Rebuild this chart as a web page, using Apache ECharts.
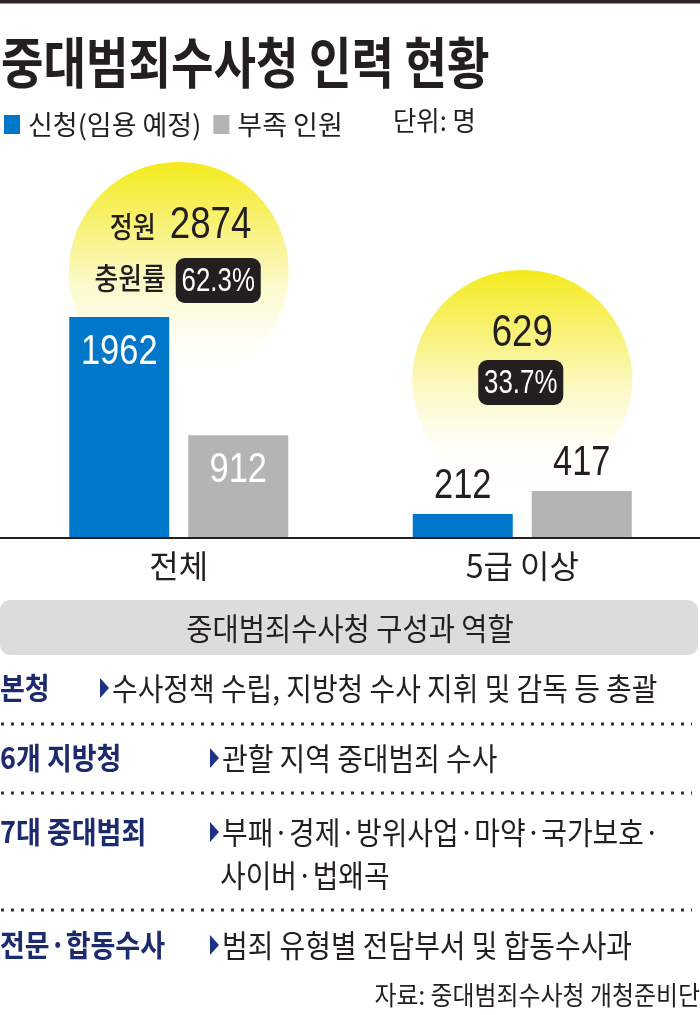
<!DOCTYPE html>
<html>
<head>
<meta charset="utf-8">
<title>중대범죄수사청 인력 현황</title>
<script src="https://cdn.jsdelivr.net/npm/echarts@6/dist/echarts.min.js"></script>
<style>
    html, body { margin: 0; padding: 0; background: #fff; }
    #main { width: 700px; height: 1015px; }
</style>
</head>
<body>
<div id="main"></div>
<script>
// 데이터
var categories = ['전체', '5급 이상'];
var seriesNames = ['신청(임용 예정)', '부족 인원'];
var appliedCounts = [1962, 212];
var shortageCounts = [912, 417];
var quotaCounts = [2874, 629];
var fillRates = ['62.3%', '33.7%'];
var quotaPrefix = ['정원', ''];
var ratePrefix = ['충원률', ''];

var roleLabels = ['본청', '6개 지방청', '7대 중대범죄', '전문·합동수사'];
var roleTexts = [
    ['수사정책 수립, 지방청 수사 지휘 및 감독 등 총괄'],
    ['관할 지역 중대범죄 수사'],
    ['부패·경제·방위사업·마약·국가보호·', '사이버·법왜곡'],
    ['범죄 유형별 전담부서 및 합동수사과']
];

// 스타일
var DARK = '#231f20';
var BLUE = '#0077c8';
var GRAY = '#b4b4b4';
var NAVY = '#1c2a6e';
var KR = '"Noto Sans CJK KR", sans-serif';
var NUM = '"Liberation Sans", Arial, sans-serif';

var BAR_WIDTH = 100;
var BAR_GAP = 19;
var bubbleCenterY = [272, 380];
var bubbleRadius = 110;

function renderBubble(params, api) {
    var i = params.dataIndex;
    var cx = api.coord([api.value(0), 0])[0];
    var cy = bubbleCenterY[i];
    var fill = new echarts.graphic.LinearGradient(0, 0, 0, 1, [
        { offset: 0, color: '#f4ea1c' },
        { offset: 0.3, color: '#f8f27c' },
        { offset: 0.55, color: '#fcf9c8' },
        { offset: 0.8, color: '#fffef6' },
        { offset: 1, color: '#ffffff' }
    ]);
    var children = [{
        type: 'circle',
        shape: { cx: cx, cy: cy, r: bubbleRadius },
        style: { fill: fill }
    }];
    var hasPrefix = quotaPrefix[i] != '';
    var boxW = 85, boxH = 45;
    var boxX = hasPrefix ? cx - 3 : cx - 44;
    var boxY = hasPrefix ? cy - 14 : cy - 20;
    if (hasPrefix) {
        children.push({
            type: 'text', x: cx - 23, y: cy - 45, scaleX: 0.86,
            style: { text: quotaPrefix[i], font: '500 29px ' + KR, fill: DARK, align: 'right', verticalAlign: 'middle' }
        });
        children.push({
            type: 'text', x: cx - 13, y: cy + 6, scaleX: 0.86,
            style: { text: ratePrefix[i], font: '500 30px ' + KR, fill: DARK, align: 'right', verticalAlign: 'middle' }
        });
    }
    children.push({
        type: 'text', x: hasPrefix ? cx - 9 : cx, y: cy - 46, scaleX: 0.815,
        style: { text: String(api.value(1)), font: '45px ' + NUM, fill: DARK, align: hasPrefix ? 'left' : 'center', verticalAlign: 'middle' }
    });
    children.push({
        type: 'rect',
        shape: { x: boxX, y: boxY, width: boxW, height: boxH, r: 9 },
        style: { fill: DARK }
    });
    children.push({
        type: 'text', x: boxX + boxW / 2, y: boxY + boxH / 2 + 1, scaleX: 0.76,
        style: { text: fillRates[i], font: '34px ' + NUM, fill: '#fff', align: 'center', verticalAlign: 'middle' }
    });
    return { type: 'group', children: children };
}

// 막대 값 라벨 (좁은 글꼴 흉내를 위해 scaleX 사용)
function renderBarLabel(params, api) {
    var value = api.value(1);
    var side = api.value(2) == 0 ? -1 : 1;
    var base = api.coord([api.value(0), 0]);
    var top = api.coord([api.value(0), value]);
    var inside = value > 500;
    return {
        type: 'text',
        x: base[0] + side * (BAR_WIDTH + BAR_GAP) / 2,
        y: inside ? top[1] + 35 : top[1] - 28,
        scaleX: 0.82,
        style: {
            text: String(value),
            font: '42px ' + NUM,
            fill: inside ? '#fff' : DARK,
            align: 'center',
            verticalAlign: 'middle'
        }
    };
}

function labelData() {
    var list = [];
    for (var i = 0; i < categories.length; i++) {
        list.push([i, appliedCounts[i], 0]);
        list.push([i, shortageCounts[i], 1]);
    }
    return list;
}

function textEl(x, y, text, font, fill, align, scaleX) {
    return {
        type: 'text', x: x, y: y, scaleX: scaleX || 1,
        style: { text: text, font: font, fill: fill, align: align || 'left', verticalAlign: 'middle' }
    };
}

function buildGraphics() {
    var els = [];
    els.push({ type: 'rect', shape: { x: 0, y: 0, width: 700, height: 3.5 }, style: { fill: '#2b2523' } });
    els.push(textEl(1, 62, '중대범죄수사청 인력 현황', 'bold 55px ' + KR, DARK, 'left', 0.84));
    els.push(textEl(393, 121, '단위: 명', '27px ' + KR, DARK, 'left', 0.94));
    els.push({ type: 'line', shape: { x1: 0, y1: 538, x2: 700, y2: 538 }, style: { stroke: DARK, lineWidth: 2 }, z: 10 });

    els.push({ type: 'rect', shape: { x: 0, y: 600, width: 698, height: 55, r: 10 }, style: { fill: '#dcdcdc' } });
    els.push(textEl(350, 628, '중대범죄수사청 구성과 역할', '31px ' + KR, DARK, 'center', 0.92));

    var rowY = [688, 758, 832, 945];
    var arrowX = [100, 210, 210, 210];
    for (var i = 0; i < roleLabels.length; i++) {
        els.push(textEl(0, rowY[i], roleLabels[i], 'bold 30px ' + KR, NAVY, 'left', 0.9));
        var ax = arrowX[i], ay = rowY[i];
        els.push({
            type: 'polygon',
            shape: { points: [[ax, ay - 10], [ax + 9, ay], [ax, ay + 10]] },
            style: { fill: '#1c3287' }
        });
        for (var j = 0; j < roleTexts[i].length; j++) {
            els.push(textEl(ax + 12 - j * 2, ay + j * 43, roleTexts[i][j], '31px ' + KR, DARK, 'left', 0.9));
        }
    }
    var dotY = [724, 793, 910];
    for (var k = 0; k < dotY.length; k++) {
        els.push({
            type: 'line',
            shape: { x1: 1, y1: dotY[k], x2: 692, y2: dotY[k] },
            style: { stroke: '#333', lineWidth: 3, lineDash: [3, 7] }
        });
    }
    els.push(textEl(700, 995, '자료: 중대범죄수사청 개청준비단', '26px ' + KR, DARK, 'right', 0.92));
    return els;
}

var myChart = echarts.init(document.getElementById('main'));
var option = {
    backgroundColor: '#fff',
    animation: false,
    legend: {
        left: 4,
        top: 111,
        padding: 0,
        icon: 'rect',
        itemWidth: 16,
        itemHeight: 19,
        itemGap: 12,
        textStyle: { fontSize: 27, color: DARK, fontFamily: KR, padding: [0, 0, 0, 3] },
        data: seriesNames
    },
    grid: { left: 7, right: 6, top: 200, bottom: 477 },
    xAxis: {
        type: 'category',
        data: categories,
        axisLine: { show: false },
        axisTick: { show: false },
        axisLabel: { fontSize: 32, color: DARK, fontFamily: KR, margin: 12 }
    },
    yAxis: {
        type: 'value',
        min: 0,
        max: 3000,
        show: false
    },
    series: [
        {
            type: 'custom',
            name: '정원',
            renderItem: renderBubble,
            data: categories.map(function (c, i) { return [i, quotaCounts[i]]; }),
            z: 1,
            silent: true
        },
        {
            type: 'bar',
            name: seriesNames[0],
            data: appliedCounts,
            barWidth: BAR_WIDTH,
            barGap: (BAR_GAP / BAR_WIDTH * 100) + '%',
            itemStyle: { color: BLUE },
            z: 3
        },
        {
            type: 'bar',
            name: seriesNames[1],
            data: shortageCounts,
            barWidth: BAR_WIDTH,
            barGap: (BAR_GAP / BAR_WIDTH * 100) + '%',
            itemStyle: { color: GRAY },
            z: 3
        },
        {
            type: 'custom',
            name: '값',
            renderItem: renderBarLabel,
            data: labelData(),
            z: 5,
            silent: true
        }
    ],
    graphic: buildGraphics()
};
myChart.setOption(option);
</script>
</body>
</html>
